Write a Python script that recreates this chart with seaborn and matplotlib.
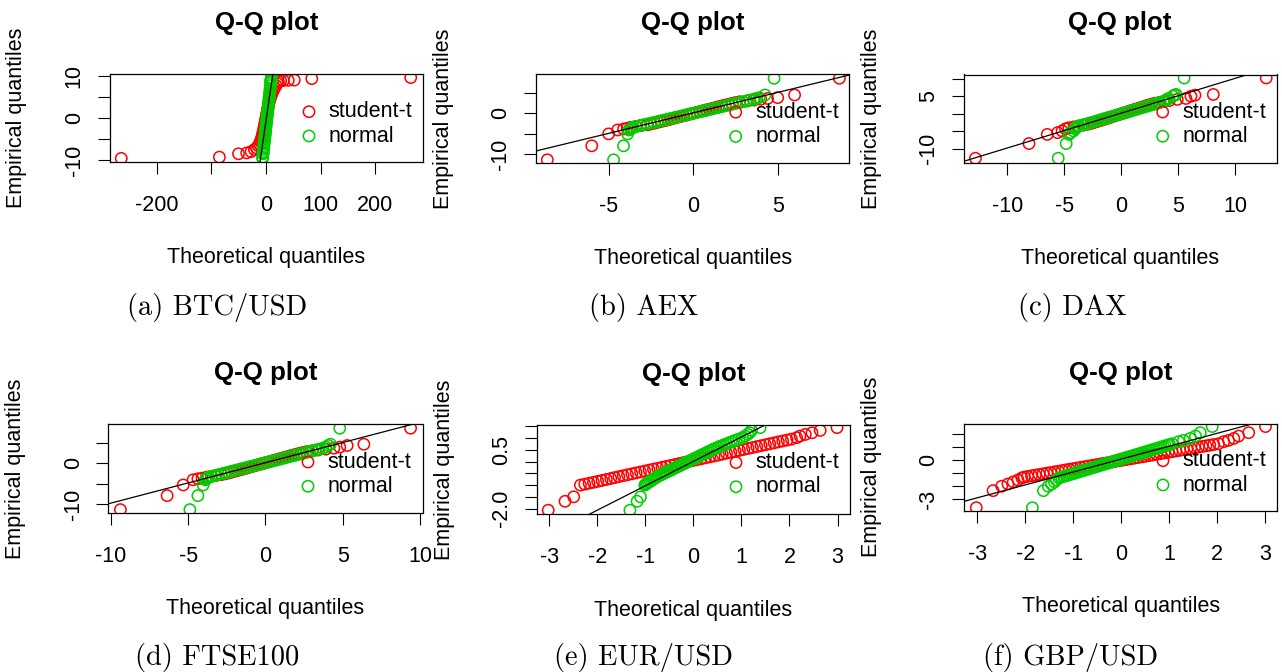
import matplotlib
matplotlib.use("Agg")
import matplotlib.pyplot as plt
import seaborn as sns

# ------------------------------------------------------------------
# Data (shared empirical quantiles y,
# theoretical Student-t quantiles t, theoretical normal quantiles n)
# ------------------------------------------------------------------
captions = ["(a) BTC/USD", "(b) AEX", "(c) DAX", "(d) FTSE100", "(e) EUR/USD", "(f) GBP/USD"]
series_labels = ["student-t", "normal"]

# (a) BTC/USD
y_a = [-9.5, -9.2, -8.4, -8.2, -7.9, -7.4, -7.0, -6.5, -6.0, -5.5, -5.0, -4.5, -4.0, -3.5, -3.0,
       -2.5, -2.0, -1.5, -1.0, -0.5, 0.0, 0.5, 1.0, 1.5, 2.0, 2.5, 3.0, 3.5, 4.0, 4.5, 5.0, 5.5,
       6.0, 6.6, 7.2, 7.8, 8.3, 8.7, 8.9, 9.0, 9.05, 9.1, 9.45, 9.7]
t_a = [-264.5, -85, -50, -35, -27, -21, -17, -14, -11.5, -10, -8.6, -7.4, -6.4, -5.5, -4.6,
       -3.8, -3.0, -2.3, -1.5, -0.8, 0.0, 0.8, 1.5, 2.3, 3.0, 3.8, 4.6, 5.5, 6.4, 7.4, 8.6, 10,
       11.5, 13.5, 16, 18.5, 21, 23, 27, 32, 41, 52, 84, 265]
n_a = [-6.0, -5.75, -5.1, -4.9, -4.7, -4.25, -3.9, -3.5, -3.1, -2.7, -2.25, -1.85, -1.4, -1.0,
       -0.6, -0.15, 0.25, 0.65, 1.1, 1.5, 1.9, 2.35, 2.75, 3.15, 3.6, 4.0, 4.4, 4.85, 5.25, 5.65,
       6.1, 6.5, 6.9, 7.4, 7.9, 8.4, 8.85, 9.15, 9.35, 9.4, 9.45, 9.5, 9.8, 10.0]

# (b) AEX
y_b = [-11.3, -7.9, -5.0, -4.05, -3.8, -3.65, -3.4, -3.2, -3.0, -2.8, -2.6, -2.4, -2.2, -2.0,
       -1.8, -1.6, -1.4, -1.2, -1.0, -0.8, -0.6, -0.4, -0.2, 0.0, 0.2, 0.4, 0.6, 0.8, 1.0, 1.2,
       1.4, 1.6, 1.8, 2.0, 2.2, 2.4, 2.6, 2.8, 3.0, 3.2, 3.4, 3.6, 3.8, 4.45, 8.5]
t_b = [-8.63, -6.0, -5.0, -4.47, -4.12, -3.9, -3.7, -3.4, -3.1, -2.7, -2.5, -2.3, -2.1, -1.9,
       -1.7, -1.5, -1.33, -1.14, -0.95, -0.76, -0.57, -0.38, -0.19, 0.0, 0.19, 0.38, 0.57, 0.76,
       0.95, 1.14, 1.33, 1.5, 1.7, 1.9, 2.1, 2.3, 2.5, 2.75, 3.2, 3.6, 4.0, 4.4, 5.0, 6.0, 8.65]
n_b = [-4.71, -4.12, -3.88, -3.8, -3.7, -3.62, -3.57, -3.36, -3.15, -2.94, -2.73, -2.52, -2.31,
       -2.1, -1.89, -1.68, -1.47, -1.26, -1.05, -0.84, -0.63, -0.42, -0.21, 0.0, 0.21, 0.42,
       0.63, 0.84, 1.05, 1.26, 1.47, 1.68, 1.89, 2.1, 2.31, 2.52, 2.73, 2.94, 3.15, 3.36, 3.57,
       3.72, 3.9, 4.25, 4.79]

# (c) DAX
y_c = [-12.7, -8.5, -5.9, -5.4, -4.9, -4.3, -4.0, -3.75, -3.5, -3.25, -3.0, -2.75, -2.5, -2.25,
       -2.0, -1.75, -1.5, -1.25, -1.0, -0.75, -0.5, -0.25, 0.0, 0.25, 0.5, 0.75, 1.0, 1.25, 1.5,
       1.75, 2.0, 2.25, 2.5, 2.75, 3.0, 3.25, 3.5, 3.75, 4.1, 4.36, 5.0, 5.3, 5.5, 10.2]
t_c = [-12.8, -8.1, -6.5, -5.6, -5.2, -4.9, -4.6, -4.15, -3.75, -3.35, -2.95, -2.65, -2.4,
       -2.15, -1.9, -1.67, -1.43, -1.19, -0.95, -0.71, -0.48, -0.24, 0.0, 0.24, 0.48, 0.71,
       0.95, 1.19, 1.43, 1.67, 1.9, 2.15, 2.4, 2.65, 2.95, 3.35, 3.75, 4.2, 4.9, 5.66, 6.1,
       6.45, 8.06, 12.7]
n_c = [-5.54, -4.84, -4.6, -4.46, -4.2, -4.05, -4.0, -3.9, -3.72, -3.45, -3.15, -2.89, -2.63,
       -2.36, -2.1, -1.84, -1.58, -1.31, -1.05, -0.79, -0.53, -0.26, 0.0, 0.26, 0.53, 0.79,
       1.05, 1.31, 1.58, 1.84, 2.1, 2.36, 2.63, 2.89, 3.15, 3.4, 3.65, 3.85, 4.0, 4.15, 4.5,
       4.65, 4.8, 5.5]

# (d) FTSE100
y_d = [-11.3, -7.9, -5.3, -4.05, -3.8, -3.65, -3.4, -3.2, -3.0, -2.8, -2.6, -2.4, -2.2, -2.0,
       -1.8, -1.6, -1.4, -1.2, -1.0, -0.8, -0.6, -0.4, -0.2, 0.0, 0.2, 0.4, 0.6, 0.8, 1.0, 1.2,
       1.4, 1.6, 1.8, 2.0, 2.2, 2.4, 2.6, 2.8, 3.0, 3.2, 3.4, 3.64, 3.9, 4.29, 4.6, 8.5]
t_d = [-9.38, -6.36, -5.32, -4.68, -4.37, -4.1, -3.8, -3.5, -3.2, -2.85, -2.6, -2.4, -2.2,
       -2.0, -1.8, -1.6, -1.42, -1.23, -1.04, -0.85, -0.66, -0.47, -0.28, -0.09, 0.1, 0.29,
       0.48, 0.67, 0.86, 1.05, 1.24, 1.42, 1.62, 1.82, 2.02, 2.22, 2.42, 2.65, 3.0, 3.4, 3.9,
       4.42, 4.8, 5.28, 6.36, 9.38]
n_d = [-4.89, -4.37, -4.03, -3.9, -3.82, -3.75, -3.67, -3.46, -3.25, -3.04, -2.83, -2.62,
       -2.41, -2.2, -1.99, -1.78, -1.57, -1.36, -1.15, -0.94, -0.73, -0.52, -0.31, -0.1, 0.11,
       0.32, 0.53, 0.74, 0.95, 1.16, 1.37, 1.58, 1.79, 2.0, 2.21, 2.42, 2.63, 2.84, 3.05, 3.26,
       3.47, 3.7, 3.9, 4.05, 4.2, 4.8]

# (e) EUR/USD
y_e = [-2.07, -1.69, -1.5, -1.0, -0.96, -0.92, -0.88, -0.84, -0.8, -0.76, -0.72, -0.68, -0.64,
       -0.6, -0.56, -0.52, -0.48, -0.44, -0.4, -0.36, -0.32, -0.28, -0.24, -0.2, -0.16, -0.12,
       -0.08, -0.04, 0.0, 0.04, 0.08, 0.12, 0.16, 0.2, 0.24, 0.28, 0.32, 0.36, 0.4, 0.44, 0.48,
       0.52, 0.56, 0.6, 0.64, 0.68, 0.72, 0.76, 0.8, 0.84, 0.88, 0.92, 0.96, 1.02, 1.09, 1.16,
       1.23, 1.33, 1.45]
t_e = [-3.02, -2.67, -2.49, -2.35, -2.26, -2.17, -2.08, -1.99, -1.9, -1.81, -1.72, -1.64,
       -1.55, -1.46, -1.37, -1.28, -1.19, -1.1, -1.01, -0.92, -0.83, -0.74, -0.65, -0.56, -0.47,
       -0.38, -0.29, -0.2, -0.11, -0.02, 0.07, 0.16, 0.25, 0.34, 0.43, 0.52, 0.6, 0.69, 0.78,
       0.87, 0.96, 1.05, 1.14, 1.23, 1.32, 1.41, 1.5, 1.59, 1.68, 1.77, 1.86, 1.95, 2.04, 2.15,
       2.22, 2.33, 2.47, 2.64, 2.99]
n_e = [-1.32, -1.17, -1.1, -1.01, -0.99, -0.96, -0.93, -0.9, -0.87, -0.84, -0.81, -0.78,
       -0.75, -0.71, -0.67, -0.63, -0.59, -0.55, -0.51, -0.47, -0.43, -0.39, -0.35, -0.31,
       -0.27, -0.23, -0.19, -0.15, -0.11, -0.07, -0.03, 0.01, 0.05, 0.09, 0.13, 0.17, 0.21,
       0.25, 0.29, 0.33, 0.37, 0.41, 0.45, 0.5, 0.54, 0.59, 0.64, 0.69, 0.74, 0.79, 0.84, 0.89,
       0.95, 1.02, 1.08, 1.13, 1.17, 1.21, 1.39]

# (f) GBP/USD
y_f = [-3.65, -2.34, -2.0, -1.83, -1.67, -1.52, -1.36, -1.3, -1.25, -1.2, -1.15, -1.1, -1.05,
       -1.0, -0.95, -0.9, -0.85, -0.8, -0.75, -0.7, -0.65, -0.6, -0.55, -0.5, -0.45, -0.4,
       -0.35, -0.3, -0.25, -0.2, -0.15, -0.1, -0.05, 0.0, 0.05, 0.1, 0.15, 0.2, 0.25, 0.3, 0.35,
       0.4, 0.45, 0.5, 0.55, 0.6, 0.65, 0.7, 0.75, 0.8, 0.85, 0.9, 0.95, 1.0, 1.05, 1.1, 1.15,
       1.2, 1.26, 1.42, 1.52, 1.67, 1.85, 2.11, 2.58]
t_f = [-3.02, -2.67, -2.49, -2.36, -2.25, -2.15, -2.07, -2.02, -1.95, -1.87, -1.79, -1.71,
       -1.63, -1.55, -1.47, -1.39, -1.31, -1.23, -1.16, -1.08, -1.0, -0.92, -0.84, -0.76, -0.68,
       -0.6, -0.52, -0.44, -0.37, -0.29, -0.21, -0.13, -0.05, 0.03, 0.11, 0.19, 0.27, 0.35,
       0.43, 0.5, 0.58, 0.66, 0.74, 0.82, 0.9, 0.98, 1.06, 1.14, 1.22, 1.29, 1.37, 1.45, 1.53,
       1.61, 1.69, 1.77, 1.85, 1.93, 2.03, 2.14, 2.24, 2.35, 2.45, 2.66, 3.01]
n_f = [-1.85, -1.62, -1.52, -1.45, -1.39, -1.35, -1.3, -1.24, -1.2, -1.15, -1.11, -1.06,
       -1.02, -0.97, -0.93, -0.88, -0.84, -0.79, -0.75, -0.7, -0.66, -0.61, -0.57, -0.52, -0.48,
       -0.43, -0.39, -0.34, -0.3, -0.25, -0.21, -0.16, -0.12, -0.07, -0.03, 0.02, 0.07, 0.11,
       0.16, 0.2, 0.25, 0.29, 0.34, 0.38, 0.43, 0.47, 0.52, 0.56, 0.61, 0.65, 0.7, 0.74, 0.79,
       0.83, 0.88, 0.92, 0.97, 1.01, 1.06, 1.2, 1.3, 1.44, 1.55, 1.65, 1.9]

# reference lines (intercept, slope)
line_a = (-0.8, 0.89)
line_b = (0.1, 0.995)
line_c = (0.18, 0.995)
line_d = (0.11, 0.983)
line_e = (0.01, 1.04)
line_f = (0.08, 0.99)

# ticks and tick labels
xticks_a, xtl_a = [-200, -100, 0, 100, 200], ["-200", "", "0", "100", "200"]
yticks_a, ytl_a = [-10, -5, 0, 5, 10], ["-10", "", "0", "", "10"]
xticks_b, xtl_b = [-5, 0, 5], ["-5", "0", "5"]
yticks_b, ytl_b = [-10, -5, 0, 5], ["-10", "", "0", ""]
xticks_c, xtl_c = [-10, -5, 0, 5, 10], ["-10", "-5", "0", "5", "10"]
yticks_c, ytl_c = [-10, -5, 0, 5, 10], ["-10", "", "", "5", ""]
xticks_d, xtl_d = [-10, -5, 0, 5, 10], ["-10", "-5", "0", "5", "10"]
yticks_d, ytl_d = [-10, -5, 0, 5], ["-10", "", "0", ""]
xticks_e, xtl_e = [-3, -2, -1, 0, 1, 2, 3], ["-3", "-2", "-1", "0", "1", "2", "3"]
yticks_e, ytl_e = [-2.0, -1.5, -1.0, -0.5, 0.0, 0.5, 1.0, 1.5], ["-2.0", "", "", "", "", "0.5", "", ""]
xticks_f, xtl_f = [-3, -2, -1, 0, 1, 2, 3], ["-3", "-2", "-1", "0", "1", "2", "3"]
yticks_f, ytl_f = [-3, -2, -1, 0, 1, 2], ["-3", "", "", "0", "", ""]

# ------------------------------------------------------------------
# Layout (pixels in a 1282 x 672 canvas)
# ------------------------------------------------------------------
W, H = 1282, 672
PANELS = [
    dict(y=y_a, t=t_a, n=n_a, line=line_a, xt=xticks_a, xtl=xtl_a, yt=yticks_a, ytl=ytl_a,
         box=(109.5, 74.0, 423.3, 161.5), xlim=(-286, 288), ylim=(-10.24, 10.55),
         cap=(217, 315), leg=(309, 124)),
    dict(y=y_b, t=t_b, n=n_b, line=line_b, xt=xticks_b, xtl=xtl_b, yt=yticks_b, ytl=ytl_b,
         box=(536.0, 74.3, 849.5, 162.7), xlim=(-9.3, 9.25), ylim=(-12.0, 9.47),
         cap=(644, 315), leg=(735.7, 124.5)),
    dict(y=y_c, t=t_c, n=n_c, line=line_c, xt=xticks_c, xtl=xtl_c, yt=yticks_c, ytl=ytl_c,
         box=(964.0, 74.5, 1276.5, 162.8), xlim=(-13.8, 13.6), ylim=(-14.0, 11.2),
         cap=(1072, 315), leg=(1162.7, 124.3)),
    dict(y=y_d, t=t_d, n=n_d, line=line_d, xt=xticks_d, xtl=xtl_d, yt=yticks_d, ytl=ytl_d,
         box=(108.5, 424.2, 422.5, 512.5), xlim=(-10.15, 10.15), ylim=(-12.0, 9.47),
         cap=(217, 665), leg=(308, 474.3)),
    dict(y=y_e, t=t_e, n=n_e, line=line_e, xt=xticks_e, xtl=xtl_e, yt=yticks_e, ytl=ytl_e,
         box=(536.7, 424.8, 850.0, 514.2), xlim=(-3.26, 3.26), ylim=(-2.24, 1.57),
         cap=(644, 665), leg=(736, 474.8)),
    dict(y=y_f, t=t_f, n=n_f, line=line_f, xt=xticks_f, xtl=xtl_f, yt=yticks_f, ytl=ytl_f,
         box=(964.3, 423.7, 1277.0, 510.7), xlim=(-3.27, 3.25), ylim=(-3.88, 2.8),
         cap=(1071, 665), leg=(1163, 473)),
]

sns.set_theme(style="white")
plt.rcParams["font.family"] = ["Liberation Sans", "DejaVu Sans"]
plt.rcParams["axes.unicode_minus"] = False
plt.rcParams["text.color"] = "black"
plt.rcParams["axes.labelcolor"] = "black"
plt.rcParams["xtick.color"] = "black"
plt.rcParams["ytick.color"] = "black"
plt.rcParams["legend.labelcolor"] = "black"

RED = "#FF0000"
GREEN = "#00CD00"
FS = 15.5
EM_PX = FS / 72 * 100
MS = 66
MLW = 1.1

fig = plt.figure(figsize=(W / 100, H / 100), dpi=100)
fig.patch.set_facecolor("white")

for p, cap in zip(PANELS, captions):
    x0, y0, x1, y1 = p["box"]
    ax = fig.add_axes([x0 / W, 1 - y1 / H, (x1 - x0) / W, (y1 - y0) / H])
    ax.set_facecolor("white")
    sns.scatterplot(x=p["t"], y=p["y"], ax=ax, marker="o", s=MS, color=RED,
                    facecolor="none", edgecolor=RED, linewidth=MLW,
                    label=series_labels[0], zorder=2)
    sns.scatterplot(x=p["n"], y=p["y"], ax=ax, marker="o", s=MS, color=GREEN,
                    facecolor="none", edgecolor=GREEN, linewidth=MLW,
                    label=series_labels[1], zorder=2)
    b, m = p["line"]
    ax.axline((0, b), slope=m, color="black", lw=0.9, zorder=3)

    ax.set_xlim(*p["xlim"])
    ax.set_ylim(*p["ylim"])
    ax.set_xticks(p["xt"])
    ax.set_xticklabels(p["xtl"], fontsize=FS)
    ax.set_yticks(p["yt"])
    ax.set_yticklabels(p["ytl"], fontsize=FS, rotation=90, va="center")
    ax.tick_params(axis="both", direction="out", length=8.9, width=0.8, color="black",
                   bottom=True, left=True, top=False, right=False, labelcolor="black")
    ax.tick_params(axis="x", pad=15)
    ax.tick_params(axis="y", pad=9)
    for s in ax.spines.values():
        s.set_visible(True)
        s.set_color("black")
        s.set_linewidth(0.9)

    ax.set_title("Q-Q plot", fontsize=18.6, fontweight="bold", pad=31.7, color="black")
    ax.set_xlabel("Theoretical quantiles", fontsize=FS, color="black")
    ax.set_ylabel("Empirical quantiles", fontsize=FS, color="black")
    ax.xaxis.set_label_coords(((x0 + x1) / 2) / W, 1 - (y1 + 85.5) / H, transform=fig.transFigure)
    ax.yaxis.set_label_coords((x0 - 82) / W, 1 - ((y0 + y1) / 2) / H, transform=fig.transFigure)

    lx, ly = p["leg"]
    ax.legend(loc="center left", bbox_to_anchor=((lx - 0.5 * EM_PX) / W, 1 - ly / H),
              bbox_transform=fig.transFigure, frameon=False, fontsize=FS,
              handlelength=1.0, handletextpad=0.4, labelspacing=0.15,
              borderpad=0, borderaxespad=0, scatterpoints=1, labelcolor="black")

    cx, cy = p["cap"]
    fig.text(cx / W, 1 - cy / H, cap, ha="center", va="baseline", fontsize=20.5,
             family="cmr10", color="black")

fig.savefig("out.png", dpi=100, facecolor="white")
